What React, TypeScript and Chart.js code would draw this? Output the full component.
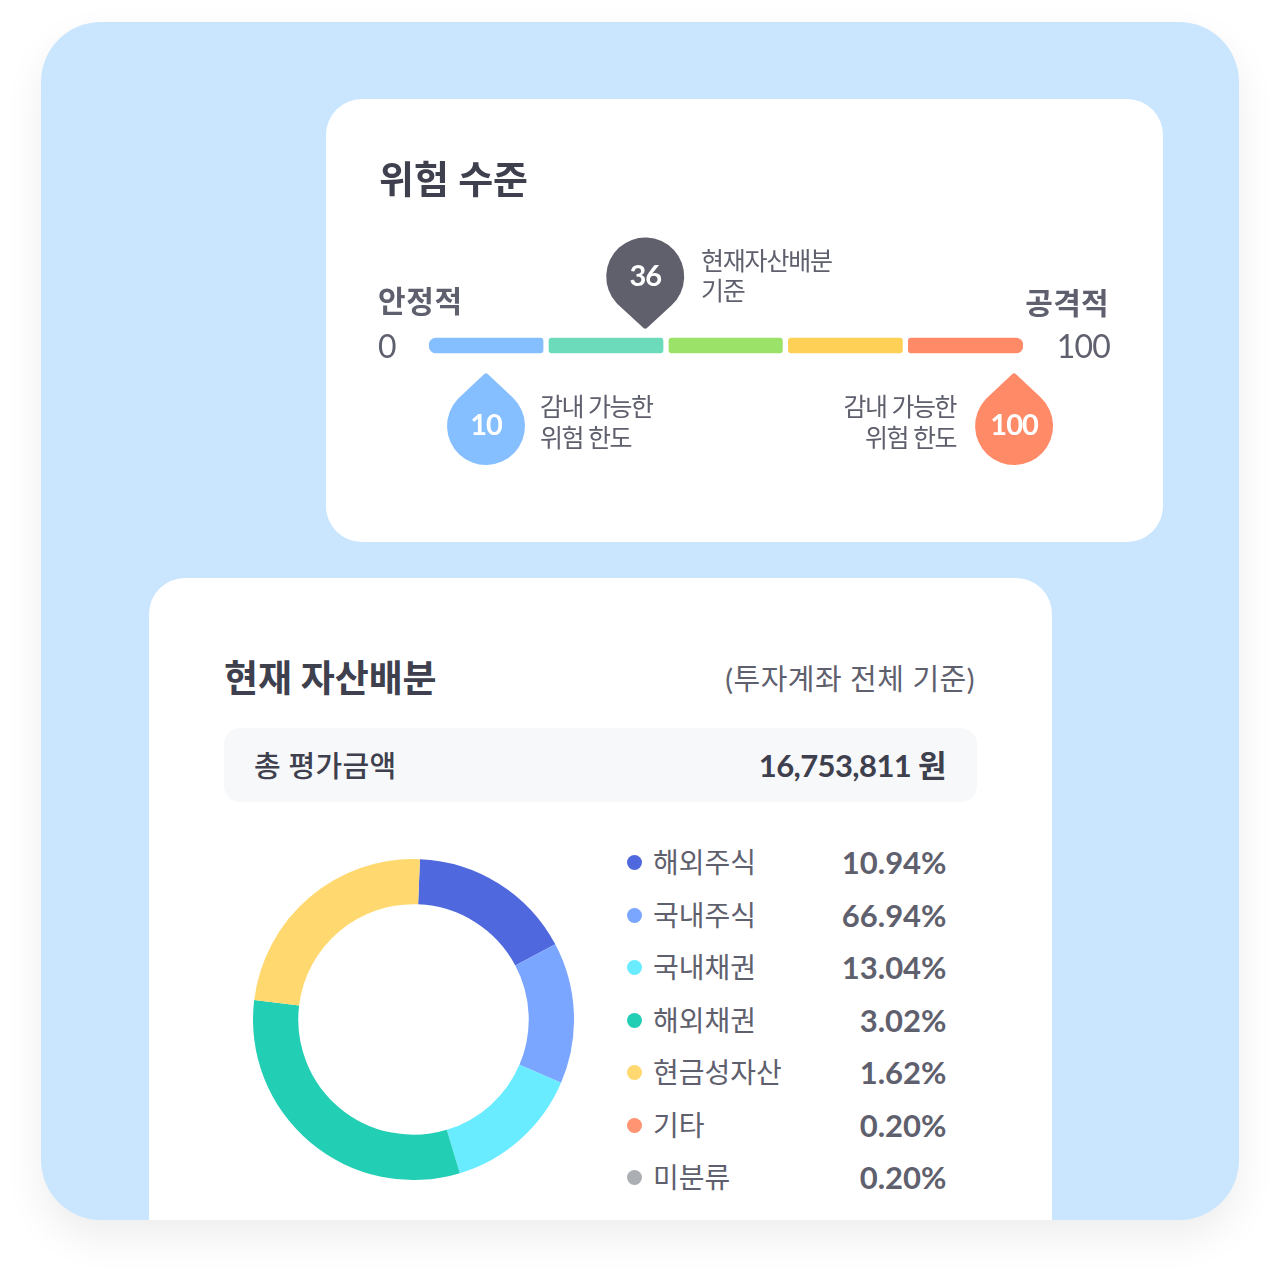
import React, { useEffect, useRef } from "react";
import { Chart, registerables } from "chart.js";

Chart.register(...registerables);

const FONT = 'Lato, "Noto Sans CJK KR", sans-serif';
const DARK = "#3E404E";
const GRAY = "#5F606E";

// Risk scale
const riskSegments: [number, number][] = [
  [0, 19.2],
  [20.2, 39.4],
  [40.4, 59.5],
  [60.5, 79.7],
  [80.7, 100],
];
const riskColors = ["#85BFFF", "#6BDBBB", "#9BE368", "#FFD056", "#FF8A68"];
const markerPositions = [36.4, 9.6, 98.5];
const markerLabels = ["36", "10", "100"];
const markerColors = ["#5F606C", "#85BFFF", "#FF8A68"];
const markerDirections = ["up", "down", "down"];

// Allocation
const sliceCategories = ["해외주식", "국내주식", "국내채권", "해외채권", "현금성자산"];
const sliceShares = [16.6, 14.2, 13.9, 31.6, 23.7];
const legendNames = ["해외주식", "국내주식", "국내채권", "해외채권", "현금성자산", "기타", "미분류"];
const legendValues = ["10.94%", "66.94%", "13.04%", "3.02%", "1.62%", "0.20%", "0.20%"];
const legendColors = ["#5068DE", "#7BA6FF", "#69ECFF", "#22CEB4", "#FFD96F", "#FF9473", "#ABAEB2"];
const legendRowY = [862, 915, 967, 1020, 1072, 1125, 1177];

function T(p: {
  x: number; y: number; size: number; text: string; color?: string; weight?: number;
  right?: boolean; ls?: number;
}) {
  const style: React.CSSProperties = {
    position: "absolute",
    top: p.y,
    fontSize: p.size,
    fontWeight: p.weight ?? 400,
    color: p.color ?? DARK,
    fontFamily: FONT,
    whiteSpace: "nowrap",
    lineHeight: 1,
    letterSpacing: p.ls ?? 0,
    transform: "translateY(-50%)",
  };
  if (p.right) style.right = 1280 - p.x;
  else style.left = p.x;
  return <div style={style}>{p.text}</div>;
}

const dropPlugin = {
  id: "drops",
  afterDatasetsDraw(chart: any) {
    const { ctx, scales } = chart;
    const barY = scales.y.getPixelForValue(0);
    markerPositions.forEach((pos, i) => {
      const x = scales.x.getPixelForValue(pos);
      const up = markerDirections[i] === "up";
      const cy = barY + (up ? -69 : 80.5);
      const tipY = barY + (up ? -16 : 27);
      const r = 39;
      const d = Math.abs(tipY - cy);
      const s = up ? 1 : -1;
      const a = Math.acos(r / d);
      const tx = r * Math.sin(a);
      const ty = r * Math.cos(a) * s;
      const tipAng = up ? Math.PI / 2 : -Math.PI / 2;
      ctx.save();
      ctx.fillStyle = markerColors[i];
      ctx.beginPath();
      ctx.moveTo(x + r * Math.cos(tipAng - s * a), cy + r * Math.sin(tipAng - s * a));
      ctx.arc(x, cy, r, tipAng - s * a, tipAng + s * a, up);
      ctx.arcTo(x, tipY, x + tx, cy + ty, 2.5);
      ctx.closePath();
      ctx.fill();
      ctx.fillStyle = "#FFFFFF";
      ctx.font = `700 29px ${FONT}`;
      ctx.letterSpacing = "-1px";
      ctx.textAlign = "center";
      ctx.textBaseline = "middle";
      ctx.fillText(markerLabels[i], x, cy);
      ctx.restore();
    });
  },
};

function RiskChart() {
  const ref = useRef<HTMLCanvasElement>(null);
  useEffect(() => {
    const chart = new Chart(ref.current!, {
      type: "bar",
      data: {
        labels: ["위험 수준"],
        datasets: riskSegments.map((seg, i) => ({
          data: [seg as any],
          backgroundColor: riskColors[i],
          borderSkipped: false,
          barThickness: 15,
          grouped: false,
          borderRadius:
            i === 0
              ? { topLeft: 7.5, bottomLeft: 7.5, topRight: 3, bottomRight: 3 }
              : i === 4
              ? { topLeft: 3, bottomLeft: 3, topRight: 7.5, bottomRight: 7.5 }
              : 3,
        })),
      },
      options: {
        indexAxis: "y",
        responsive: false,
        animation: false,
        layout: { padding: { left: 103, right: 139, top: 192, bottom: 140 } },
        scales: {
          x: { type: "linear", min: 0, max: 100, display: false },
          y: { display: false },
        },
        plugins: { legend: { display: false }, tooltip: { enabled: false } },
      },
      plugins: [dropPlugin],
    } as any);
    return () => chart.destroy();
  }, []);
  return (
    <canvas
      ref={ref}
      width={836}
      height={443}
      style={{ position: "absolute", left: 326, top: 98, width: 836, height: 443 }}
    />
  );
}

function DonutChart() {
  const ref = useRef<HTMLCanvasElement>(null);
  useEffect(() => {
    const chart = new Chart(ref.current!, {
      type: "doughnut",
      data: {
        labels: sliceCategories,
        datasets: [{ data: sliceShares, backgroundColor: legendColors.slice(0, 5), borderWidth: 0 }],
      },
      options: {
        responsive: false,
        animation: false,
        rotation: 2.3,
        cutout: "71.8%",
        layout: { padding: 0 },
        plugins: { legend: { display: false }, tooltip: { enabled: false } },
      },
    } as any);
    return () => chart.destroy();
  }, []);
  return (
    <canvas
      ref={ref}
      width={321}
      height={321}
      style={{ position: "absolute", left: 253, top: 859, width: 321, height: 321 }}
    />
  );
}

export default function App() {
  return (
    <div style={{ position: "absolute", left: 0, top: 0, width: 1280, height: 1280, background: "#FFFFFF", overflow: "hidden" }}>
      <div
        style={{
          position: "absolute", left: 41, top: 22, width: 1198, height: 1198,
          background: "#CAE6FF", borderRadius: 60,
          boxShadow: "0 18px 40px rgba(0,0,0,0.07)", overflow: "hidden",
        }}
      />
      <div style={{ position: "absolute", left: 326, top: 98.5, width: 836.5, height: 443, background: "#FFF", borderRadius: 36 }} />
      <div style={{ position: "absolute", left: 149, top: 578, width: 903, height: 642, background: "#FFF", borderRadius: "36px 36px 0 0" }} />

      <RiskChart />
      <T x={379} y={178} size={38} weight={700} text="위험 수준" />
      <T x={378} y={300} size={30} weight={700} color={GRAY} ls={0.6} text="안정적" />
      <T x={1109} y={302} size={30} weight={700} color={GRAY} right ls={0.3} text="공격적" />
      <T x={378} y={345.5} size={32} color={GRAY} text="0" />
      <T x={1110} y={345.5} size={32} color={GRAY} right ls={-0.8} text="100" />
      <T x={701} y={260} size={25} color={GRAY} ls={-1.2} text="현재자산배분" />
      <T x={701} y={290} size={25} color={GRAY} ls={-1.2} text="기준" />
      <T x={540} y={406} size={25} color={GRAY} ls={-1.5} text="감내 가능한" />
      <T x={540} y={437} size={25} color={GRAY} ls={-1.5} text="위험 한도" />
      <T x={956} y={406} size={25} color={GRAY} ls={-1.5} right text="감내 가능한" />
      <T x={956} y={437} size={25} color={GRAY} ls={-1.5} right text="위험 한도" />

      <T x={224} y={677} size={37} weight={700} ls={-0.1} text="현재 자산배분" />
      <T x={975} y={678} size={29} color={GRAY} ls={0.5} right text="(투자계좌 전체 기준)" />
      <div style={{ position: "absolute", left: 224, top: 728, width: 753, height: 74, background: "#F7F8FA", borderRadius: 16 }} />
      <T x={254} y={765} size={29} weight={500} ls={0.3} text="총 평가금액" />
      <T x={946} y={764.5} size={31} weight={700} right ls={-0.6} text="16,753,811 원" />

      <DonutChart />
      {legendNames.map((name, i) => (
        <React.Fragment key={name}>
          <div
            style={{
              position: "absolute", left: 626.5, top: legendRowY[i] - 7.5, width: 15, height: 15,
              borderRadius: "50%", background: legendColors[i],
            }}
          />
          <T x={653} y={legendRowY[i]} size={28} color={GRAY} text={name} />
          <T x={946.5} y={legendRowY[i] - 0.5} size={31} weight={700} color={GRAY} right text={legendValues[i]} />
        </React.Fragment>
      ))}
    </div>
  );
}
